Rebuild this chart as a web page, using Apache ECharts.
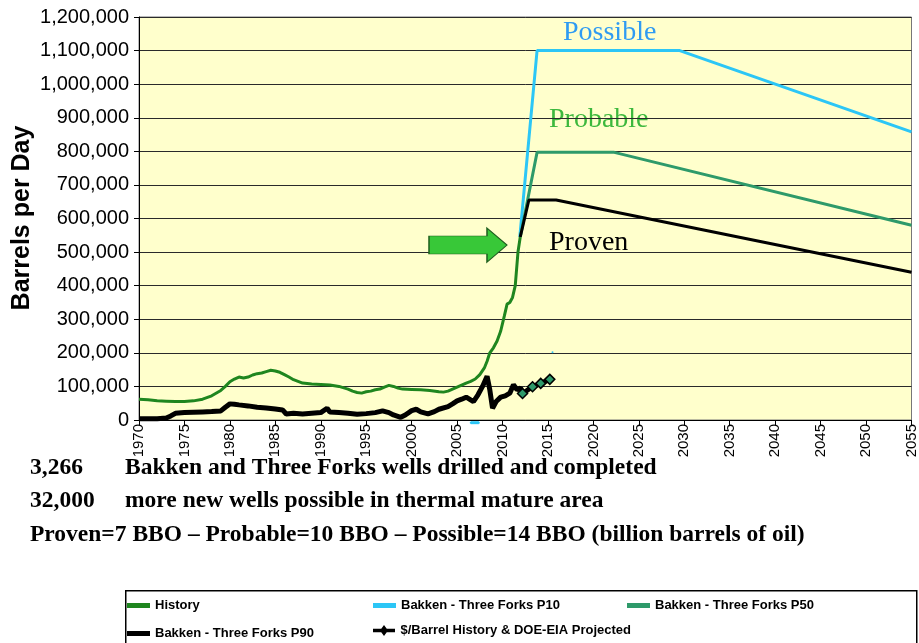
<!DOCTYPE html>
<html><head><meta charset="utf-8">
<script src="https://cdn.jsdelivr.net/npm/echarts@6/dist/echarts.min.js"></script>
<style>html,body{margin:0;padding:0;background:#fff}#c{width:919px;height:643px}</style>
</head><body><div id="c"></div>
<script>
// ---- data (year, barrels per day) ----
const historyData = [
 [1970,62000],[1971,60000],[1972,57000],[1973,56000],[1974,55000],[1975,55000],[1976,57000],
 [1977,62000],[1978,72000],[1979,88000],[1979.5,100000],[1980,114000],[1980.5,122000],[1981,128000],
 [1981.5,125000],[1982,128000],[1982.5,134000],[1983,138000],[1983.5,140000],[1984,144000],
 [1984.5,148000],[1985,146000],[1985.5,142000],[1986,135000],[1986.5,128000],[1987,120000],
 [1987.5,115000],[1988,110000],[1989,107000],[1990,106000],[1991,104000],[1992,100000],
 [1993,92000],[1993.5,86000],[1994,82000],[1994.5,80000],[1995,84000],[1995.5,86000],[1996,90000],
 [1996.5,92000],[1997,98000],[1997.5,103000],[1998,100000],[1998.5,95000],[1999,92000],[2000,91000],
 [2001,90000],[2002,88000],[2003,84000],[2003.5,83000],[2004,86000],[2004.5,92000],[2005,98000],
 [2005.5,104000],[2006,110000],[2006.5,115000],[2007,122000],[2007.5,135000],[2008,155000],
 [2008.3,175000],[2008.6,200000],[2009,215000],[2009.4,235000],[2009.8,265000],[2010.2,310000],
 [2010.5,345000],[2010.8,350000],[2011.1,365000],[2011.4,400000],[2011.7,500000],[2011.95,545000]
];
const p10Data = [[2011.9,545000],[2013.8,1100000],[2029.5,1100000],[2055,858000]];
const p10Fragment = [[2006.5,-8000],[2007.4,-8000],[2007.5,'-'],[2015.5,202000]];
const p50Data = [[2011.95,545000],[2013.8,797000],[2022.3,797000],[2055,580000]];
const p90Data = [[2011.95,545000],[2012.9,655000],[2015.9,655000],[2055,440000]];
const priceHistory = [
 [1970,4000],[1972,4000],[1973,6000],[1973.5,12000],[1974,20000],[1975,22000],[1976,23000],
 [1977,24000],[1978,25000],[1979,27000],[1979.5,38000],[1980,48000],[1980.5,47000],[1981,45000],
 [1982,42000],[1983,38000],[1984,36000],[1985,33000],[1985.8,30000],[1986.2,18000],[1987,20000],
 [1988,18000],[1989,20000],[1990,22000],[1990.7,35000],[1991,24000],[1992,22000],[1993,20000],
 [1994,17000],[1995,19000],[1996,22000],[1996.8,27000],[1997.5,22000],[1998,15000],[1998.8,8000],
 [1999.3,15000],[2000,28000],[2000.5,32000],[2001,24000],[2001.8,18000],[2002.5,25000],[2003,32000],
 [2004,40000],[2004.5,48000],[2005,57000],[2005.5,62000],[2006,68000],[2006.8,55000],[2007.3,75000],
 [2007.8,100000],[2008.3,130000],[2008.6,90000],[2008.9,35000],[2009.3,55000],[2009.8,68000],
 [2010.3,72000],[2010.8,80000],[2011.2,105000],[2011.6,90000],[2012,95000]
];
const priceProjected = [[2012.2,79000],[2013.3,99000],[2014.2,109000],[2015.2,121000]];
const xTicks = {min:1970, max:2055, step:5};
const yTicks = {min:0, max:1200000, step:100000};
const arrowAt = [2006.2, 521000];
const seriesNames = ['History','Bakken - Three Forks P10','Bakken - Three Forks P50','Bakken - Three Forks P90','$/Barrel History & DOE-EIA Projected'];
const noteLines = [
 ['3,266','Bakken and Three Forks wells drilled and completed'],
 ['32,000','more new wells possible in thermal mature area'],
 ['Proven=7 BBO \u2013 Probable=10 BBO \u2013 Possible=14 BBO (billion barrels of oil)','']
];
const curveLabels = [['Possible','#2F9BF2',563,33],['Probable','#3DB83D',549,120],['Proven','#000',549,243]];

// ---- chart ----
const chart = echarts.init(document.getElementById('c'));
const fmt = v => String(v).replace(/\B(?=(\d{3})+(?!\d))/g, ',');
const priceAll = priceHistory.concat(priceProjected.map(p => ({
  value:p, symbol:'diamond', symbolSize:10,
  itemStyle:{color:'#2E9A6A', borderColor:'#000', borderWidth:1.5}
})));
const lgBase = {orient:'horizontal', padding:0, itemWidth:23, itemHeight:5, icon:'rect',
  textStyle:{fontFamily:'Liberation Sans', fontWeight:'bold', fontSize:13, color:'#000'}};
const graphics = [
  {type:'rect', left:125, top:590, shape:{width:791, height:60}, style:{fill:'#fff', stroke:'#000', lineWidth:1.5}, z:0},
  {type:'text', x:22, y:218, rotation:Math.PI/2, style:{text:'Barrels per Day', fontFamily:'Liberation Sans', fontWeight:'bold', fontSize:25, fill:'#000', align:'center', verticalAlign:'middle'}}
];
curveLabels.forEach(c => graphics.push({type:'text', x:c[2], y:c[3], style:{text:c[0], fill:c[1], fontFamily:'Liberation Serif', fontSize:28, verticalAlign:'middle'}}));
const noteY = [468, 501, 535];
noteLines.forEach((l, i) => {
  graphics.push({type:'text', x:30, y:noteY[i], style:{text:l[0], fill:'#000', fontFamily:'Liberation Serif', fontWeight:'bold', fontSize:23.5, verticalAlign:'middle'}});
  if (l[1]) graphics.push({type:'text', x:125, y:noteY[i], style:{text:l[1], fill:'#000', fontFamily:'Liberation Serif', fontWeight:'bold', fontSize:23.5, verticalAlign:'middle'}});
});

chart.setOption({
  animation:false,
  backgroundColor:'#fff',
  grid:{left:139, right:3, top:17, bottom:223, show:true, backgroundColor:'#FFFFCC', borderColor:'#777', borderWidth:1, containLabel:false},
  xAxis:{type:'value', min:xTicks.min, max:xTicks.max, interval:xTicks.step,
    axisLine:{show:true, lineStyle:{color:'#000', width:1}},
    axisTick:{show:true, length:5, lineStyle:{color:'#000'}},
    splitLine:{show:false},
    axisLabel:{rotate:90, margin:4, color:'#000', fontFamily:'Liberation Sans', fontSize:15, formatter:v => String(v)}},
  yAxis:{type:'value', min:yTicks.min, max:yTicks.max, interval:yTicks.step,
    axisLine:{show:true, lineStyle:{color:'#000', width:1}},
    axisTick:{show:true, length:5, lineStyle:{color:'#000'}},
    splitLine:{show:true, lineStyle:{color:'#2a2a2a', width:1}},
    axisLabel:{margin:10, color:'#000', fontFamily:'Liberation Sans', fontSize:20, formatter:fmt}},
  legend:[
    Object.assign({}, lgBase, {left:127, top:599, data:[seriesNames[0]]}),
    Object.assign({}, lgBase, {left:373, top:599, data:[seriesNames[1]]}),
    Object.assign({}, lgBase, {left:627, top:599, data:[seriesNames[2]]}),
    Object.assign({}, lgBase, {left:127, top:627, data:[seriesNames[3]]}),
    Object.assign({}, lgBase, {left:373, top:624, itemHeight:11, data:[seriesNames[4]],
      icon:'path://M0,4 L9,4 L12,0 L15,4 L24,4 L24,8 L15,8 L12,12 L9,8 L0,8 Z'})
  ],
  graphic:graphics,
  series:[
    {name:seriesNames[4], type:'line', data:priceAll, symbol:'none', showSymbol:true, z:3,
      lineStyle:{color:'#000', width:5}, itemStyle:{color:'#000'}, connectNulls:false},
    {name:seriesNames[0], type:'line', data:historyData, symbol:'none', z:4,
      lineStyle:{color:'#1F861F', width:3}, itemStyle:{color:'#1F861F'},
      markPoint:{silent:true, data:[{coord:arrowAt, symbol:'path://M0,8 L58,8 L58,0 L78,17 L58,34 L58,26 L0,26 Z',
        symbolSize:[78,34], itemStyle:{color:'#38C838', borderColor:'#1E5E1E', borderWidth:1}, label:{show:false}}]}},
    {name:seriesNames[1], type:'line', data:p10Data, symbol:'none', z:2,
      lineStyle:{color:'#2CC6F6', width:3}, itemStyle:{color:'#2CC6F6'}},
    {name:'p10frag', type:'line', data:p10Fragment, symbol:'circle', symbolSize:2, showSymbol:true, clip:false, z:2,
      lineStyle:{color:'#2CC6F6', width:3}, itemStyle:{color:'#2CC6F6'}},
    {name:seriesNames[2], type:'line', data:p50Data, symbol:'none', z:2,
      lineStyle:{color:'#2E9A6A', width:3}, itemStyle:{color:'#2E9A6A'}},
    {name:seriesNames[3], type:'line', data:p90Data, symbol:'none', z:3,
      lineStyle:{color:'#000', width:3}, itemStyle:{color:'#000'}}
  ]
});
</script></body></html>
